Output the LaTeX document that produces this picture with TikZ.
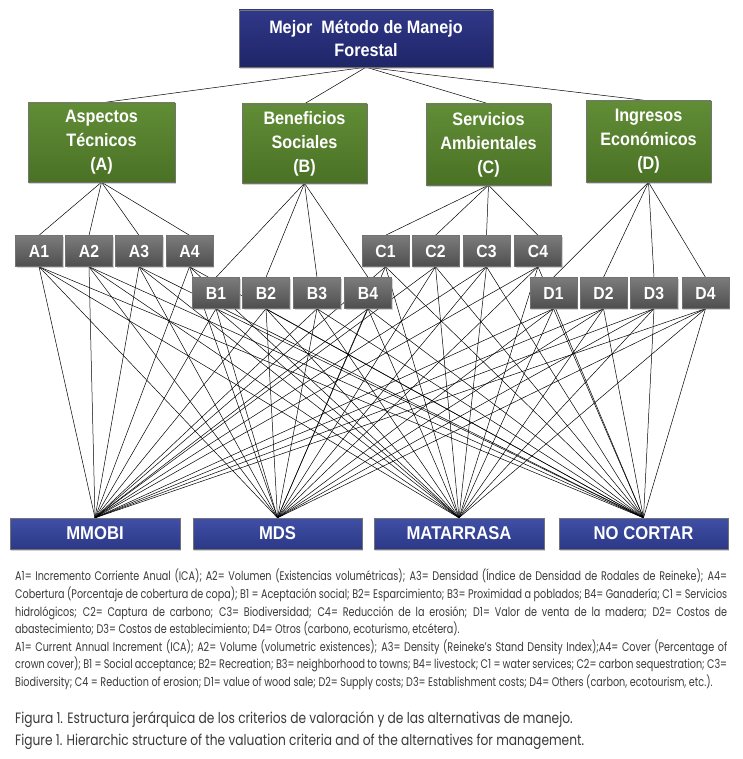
\documentclass[tikz,border=0pt]{standalone}
\usepackage{fontspec}
\setmainfont{Liberation Sans}
\newfontfamily\lab[FakeStretch=0.9]{Liberation Sans}
\newfontfamily\capf[FakeStretch=0.77]{Poppins}
\newfontfamily\capfig[FakeStretch=0.815]{Poppins}
\usetikzlibrary{shadows,backgrounds}
\definecolor{navyT}{HTML}{303889}
\definecolor{navyB}{HTML}{1F2567}
\definecolor{altT}{HTML}{4050A6}
\definecolor{altB}{HTML}{2C3887}
\definecolor{grT}{HTML}{618D36}
\definecolor{grB}{HTML}{4A7125}
\definecolor{gyT}{HTML}{7C7C7C}
\definecolor{gyB}{HTML}{4E4E4E}
\definecolor{captxt}{HTML}{3A3A3A}
\tikzset{
  box/.style={draw=black!55, line width=0.4pt, inner sep=0pt, align=center, text=white,
    drop shadow={shadow xshift=1.3pt, shadow yshift=-1.6pt, opacity=0.35}},
  topbox/.style={box, top color=navyT, bottom color=navyB, minimum width=254pt, minimum height=57pt,
    font=\lab\bfseries\fontsize{18}{22.5}\selectfont},
  crit/.style={box, top color=grT, bottom color=grB, minimum width=125pt, minimum height=79pt,
    font=\lab\bfseries\fontsize{18}{24}\selectfont},
  subbox/.style={box, top color=gyT, bottom color=gyB, minimum width=47pt, minimum height=31pt,
    font=\lab\bfseries\fontsize{17.5}{19}\selectfont},
  altbox/.style={box, top color=altT, bottom color=altB, minimum width=170pt, minimum height=31pt,
    font=\lab\bfseries\fontsize{18.5}{20}\selectfont},
  link/.style={draw=black, line width=0.5pt},
  captext/.style={inner sep=0pt, text=captxt},
}
\begin{document}
\begin{tikzpicture}[x=1pt,y=-1pt]
\useasboundingbox (0,0) rectangle (742,759);

% top
\node[topbox] (top) at (366,38.5) {Mejor~ Método de Manejo\\Forestal};
% criteria
\node[crit, minimum width=147pt] (A) at (101.5,142.5) {Aspectos\\Técnicos\\(A)};
\node[crit] (B) at (304.5,143.5) {Beneficios\\Sociales\\(B)};
\node[crit, minimum height=81pt] (C) at (488.5,144.5) {Servicios\\Ambientales\\(C)};
\node[crit, minimum height=81pt] (D) at (648.5,141.5) {Ingresos\\Económicos\\(D)};
% sub-criteria
\node[subbox] (A1) at (39,251) {A1};
\node[subbox] (A2) at (89,251) {A2};
\node[subbox] (A3) at (139,251) {A3};
\node[subbox] (A4) at (189.5,251) {A4};
\node[subbox] (B1) at (216,293) {B1};
\node[subbox] (B2) at (266,293) {B2};
\node[subbox] (B3) at (317,293) {B3};
\node[subbox] (B4) at (368,293) {B4};
\node[subbox] (C1) at (385.5,251) {C1};
\node[subbox] (C2) at (435.5,251) {C2};
\node[subbox] (C3) at (486.5,251) {C3};
\node[subbox] (C4) at (538,251) {C4};
\node[subbox] (D1) at (553.5,293) {D1};
\node[subbox] (D2) at (603.5,293) {D2};
\node[subbox] (D3) at (654,293) {D3};
\node[subbox] (D4) at (705.5,293) {D4};
% alternatives
\node[altbox] (m1) at (95,533.5) {MMOBI};
\node[altbox, minimum width=169pt] (m2) at (277.5,533.5) {MDS};
\node[altbox] (m3) at (459,533.5) {MATARRASA};
\node[altbox, minimum width=169pt] (m4) at (643.5,533.5) {NO CORTAR};

\begin{scope}[on background layer]
  \fill[white] (0,0) rectangle (742,759);
  \foreach \g in {A,B,C,D} {
    \draw[link] (top.south) -- (\g.north);
    \foreach \i in {1,2,3,4} {
      \draw[link] (\g.south) -- (\g\i.north);
      \foreach \m in {m1,m2,m3,m4} {
        \draw[link] (\g\i.south) -- (\m.north);
      }
    }
  }
\end{scope}

% captions
\node[captext, anchor=north west, text width=712pt, align=justify,
  font=\capf\fontsize{12.5}{17.6}\selectfont] (cap) at (15,569) {%
A1= Incremento Corriente Anual (ICA); A2= Volumen (Existencias volumétricas); A3= Densidad (Índice de Densidad de Rodales de Reineke); A4=\linebreak
Cobertura (Porcentaje de cobertura de copa); B1 = Aceptación social; B2= Esparcimiento; B3= Proximidad a poblados; B4= Ganadería; C1 = Servicios\linebreak
hidrológicos; C2= Captura de carbono; C3= Biodiversidad; C4= Reducción de la erosión; D1= Valor de venta de la madera; D2= Costos de\linebreak
abastecimiento; D3= Costos de establecimiento; D4= Otros (carbono, ecoturismo, etcétera).\par
A1= Current Annual Increment (ICA); A2= Volume (volumetric existences); A3= Density (Reineke’s Stand Density Index);A4= Cover (Percentage of\linebreak
crown cover); B1 = Social acceptance; B2= Recreation; B3= neighborhood to towns; B4= livestock; C1 = water services; C2= carbon sequestration; C3=\linebreak
Biodiversity; C4 = Reduction of erosion; D1= value of wood sale; D2= Supply costs; D3= Establishment costs; D4= Others (carbon, ecotourism, etc.).};

\node[captext, anchor=base west, font=\capfig\fontsize{15}{18}\selectfont] (fig1) at (15,723)
  {Figura 1. Estructura jerárquica de los criterios de valoración y de las alternativas de manejo.};
\node[captext, anchor=base west, font=\capfig\fontsize{15}{18}\selectfont] (fig2) at (15,745)
  {Figure 1. Hierarchic structure of the valuation criteria and of the alternatives for management.};
\end{tikzpicture}
\end{document}
